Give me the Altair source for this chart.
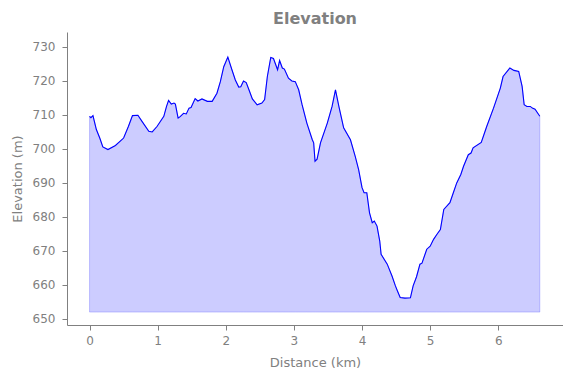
import altair as alt
import pandas as pd

distance_km = [0.00, 0.02, 0.05, 0.10, 0.15, 0.195, 0.27, 0.38, 0.50, 0.57, 0.63, 0.71, 0.77, 0.87, 0.92, 0.99,
               1.09, 1.13, 1.16, 1.20, 1.24, 1.26, 1.30, 1.33, 1.38, 1.42, 1.46, 1.49, 1.55, 1.59, 1.65, 1.73,
               1.80, 1.87, 1.92, 1.97, 2.03, 2.09, 2.14, 2.19, 2.22, 2.26, 2.30, 2.34, 2.39, 2.46, 2.53, 2.57,
               2.61, 2.66, 2.70, 2.76, 2.79, 2.83, 2.86, 2.92, 2.97, 3.02, 3.07, 3.12, 3.19, 3.27, 3.29, 3.31,
               3.34, 3.39, 3.49, 3.56, 3.61, 3.66, 3.73, 3.83, 3.90, 3.95, 4.00, 4.03, 4.07, 4.11, 4.15, 4.18,
               4.22, 4.26, 4.28, 4.37, 4.44, 4.49, 4.52, 4.56, 4.63, 4.71, 4.75, 4.80, 4.85, 4.88, 4.95, 5.00,
               5.05, 5.10, 5.15, 5.20, 5.29, 5.34, 5.39, 5.45, 5.49, 5.56, 5.60, 5.63, 5.75, 5.83, 5.93, 6.03,
               6.07, 6.17, 6.23, 6.30, 6.35, 6.38, 6.42, 6.47, 6.50, 6.54, 6.58, 6.61]
elevation_m = [709.6, 709.2, 709.8, 705.7, 703.2, 700.6, 699.8, 701.0, 703.2, 706.6, 709.8, 709.9, 708.1, 705.2, 705.0, 706.6,
               709.6, 712.5, 714.3, 713.2, 713.5, 713.2, 709.1, 709.5, 710.5, 710.3, 712.0, 712.2, 714.8, 714.1, 714.7, 714.0,
               714.0, 716.4, 719.8, 724.2, 727.0, 723.3, 720.3, 718.2, 718.3, 720.0, 719.5, 717.4, 714.7, 713.0, 713.5, 714.5,
               721.3, 726.9, 726.6, 723.3, 726.0, 723.8, 723.5, 720.8, 720.0, 719.8, 717.4, 713.0, 707.6, 702.7, 701.8, 696.4,
               697.0, 701.8, 707.6, 712.5, 717.4, 712.5, 706.2, 702.7, 697.8, 693.9, 688.6, 687.1, 687.1, 681.2, 678.3, 678.8,
               677.3, 672.9, 669.0, 666.1, 662.6, 659.7, 658.2, 656.3, 656.1, 656.2, 659.7, 662.4, 666.1, 666.4, 670.5, 671.4,
               673.4, 674.9, 676.3, 682.2, 684.2, 687.1, 690.0, 692.5, 694.9, 698.3, 698.8, 700.3, 701.9, 706.6, 712.0, 717.9,
               721.3, 723.8, 723.1, 722.8, 718.4, 713.0, 712.5, 712.5, 712.0, 711.7, 710.5, 709.6]
baseline_m = 652.0

x_ticks = [0, 1, 2, 3, 4, 5, 6]
y_ticks = [650, 660, 670, 680, 690, 700, 710, 720, 730]

df = pd.DataFrame({"dist": distance_km, "elev": elevation_m})
df["base"] = baseline_m

GRAY = "#808080"
FONT = "DejaVu Sans"

xscale = alt.Scale(domain=[-0.331, 6.95], nice=False, zero=False)
yscale = alt.Scale(domain=[648.2, 734.4], nice=False, zero=False)

xaxis = alt.Axis(values=x_ticks, tickCount=20, format="d", title="Distance (km)", grid=False, domainColor=GRAY,
                 tickColor=GRAY, labelColor=GRAY, titleColor=GRAY, labelFont=FONT, titleFont=FONT, labelFontSize=12,
                 titleFontSize=13, titleFontWeight="normal", tickSize=5, labelPadding=5, titlePadding=10,
                 labelFlush=False, labelOverlap=False)
yaxis = alt.Axis(values=y_ticks, tickCount=20, format="d", title="Elevation (m)", grid=False, domainColor=GRAY,
                 tickColor=GRAY, labelColor=GRAY, titleColor=GRAY, labelFont=FONT, titleFont=FONT, labelFontSize=12,
                 titleFontSize=13, titleFontWeight="normal", tickSize=5, labelPadding=7, titlePadding=8,
                 labelFlush=False, labelOverlap=False)

base = alt.Chart(df)
area = base.mark_area(color="#0000ff", fillOpacity=0.2, stroke="#0000ff", strokeOpacity=0.2, strokeWidth=1).encode(
    x=alt.X("dist:Q", scale=xscale, axis=xaxis),
    y=alt.Y("elev:Q", scale=yscale, axis=yaxis),
    y2="base:Q",
)
line = base.mark_line(color="#0000ff", strokeWidth=1.1).encode(
    x=alt.X("dist:Q", scale=xscale),
    y=alt.Y("elev:Q", scale=yscale),
)

chart = (area + line).properties(
    width=496, height=293,
    title=alt.TitleParams("Elevation", font=FONT, fontSize=16, fontWeight="bold", color=GRAY,
                          anchor="middle", offset=5),
    autosize=alt.AutoSizeParams(type="none"),
    padding={"left": 59, "top": 24, "right": 0, "bottom": 45},
).configure_view(stroke=None)

chart.save("out.html", embed_options={"renderer": "svg", "actions": False})
